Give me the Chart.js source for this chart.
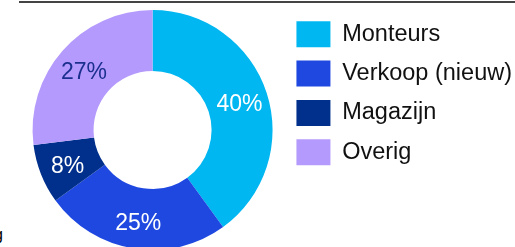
<!DOCTYPE html>
<html>
<head>
<meta charset="utf-8">
<script src="https://cdn.jsdelivr.net/npm/chart.js@4/dist/chart.umd.min.js"></script>
<style>
  html, body { margin: 0; padding: 0; background: #fff; width: 515px; height: 247px; overflow: hidden; position: relative; }
  #topline { position: absolute; left: 19px; top: 1px; width: 496px; height: 2px; background: #444; }
  #frag { position: absolute; left: -6px; top: 227px; font-family: "Liberation Sans", Arial, sans-serif; font-size: 16px; line-height: 16px; color: #000; }
  #wrap { position: absolute; left: 0; top: 0; width: 522px; height: 252px; }
</style>
</head>
<body>
<div id="topline"></div>
<div id="frag">g</div>
<div id="wrap"><canvas id="c"></canvas></div>
<script>
const categories = ["Monteurs", "Verkoop (nieuw)", "Magazijn", "Overig"];
const shares = [40, 25, 8, 27];

const sliceColors = ["#00B7F1", "#1F48E1", "#00308C", "#B49AFC"];
const labelColors = ["#FFFFFF", "#FFFFFF", "#FFFFFF", "#1B2F8F"];
const FONT = '"Liberation Sans", Arial, sans-serif';

const sliceLabels = {
  id: 'sliceLabels',
  afterDatasetsDraw(chart) {
    const ctx = chart.ctx;
    const meta = chart.getDatasetMeta(0);
    ctx.save();
    ctx.font = '23px ' + FONT;
    ctx.textAlign = 'center';
    ctx.textBaseline = 'middle';
    meta.data.forEach((arc, i) => {
      const p = arc.getProps(['x', 'y', 'startAngle', 'endAngle', 'innerRadius', 'outerRadius'], true);
      const a = (p.startAngle + p.endAngle) / 2;
      const r = p.innerRadius + (p.outerRadius - p.innerRadius) * 0.53;
      ctx.fillStyle = labelColors[i];
      ctx.fillText(chart.data.datasets[0].data[i] + '%', p.x + Math.cos(a) * r, p.y + Math.sin(a) * r + 3);
    });
    ctx.restore();
  }
};

new Chart(document.getElementById('c'), {
  type: 'doughnut',
  data: {
    labels: categories,
    datasets: [{
      data: shares,
      backgroundColor: sliceColors,
      borderWidth: 0
    }]
  },
  options: {
    responsive: true,
    maintainAspectRatio: false,
    animation: false,
    radius: 120,
    cutout: 60,
    layout: { padding: { left: 22, top: 8, right: 0, bottom: 0 } },
    plugins: {
      tooltip: { enabled: false },
      legend: {
        position: 'right',
        align: 'start',
        labels: {
          boxWidth: 34,
          boxHeight: 26,
          padding: 13.3,
          color: '#111',
          font: { family: FONT, size: 23.5 }
        }
      }
    }
  },
  plugins: [sliceLabels]
});
</script>
</body>
</html>
